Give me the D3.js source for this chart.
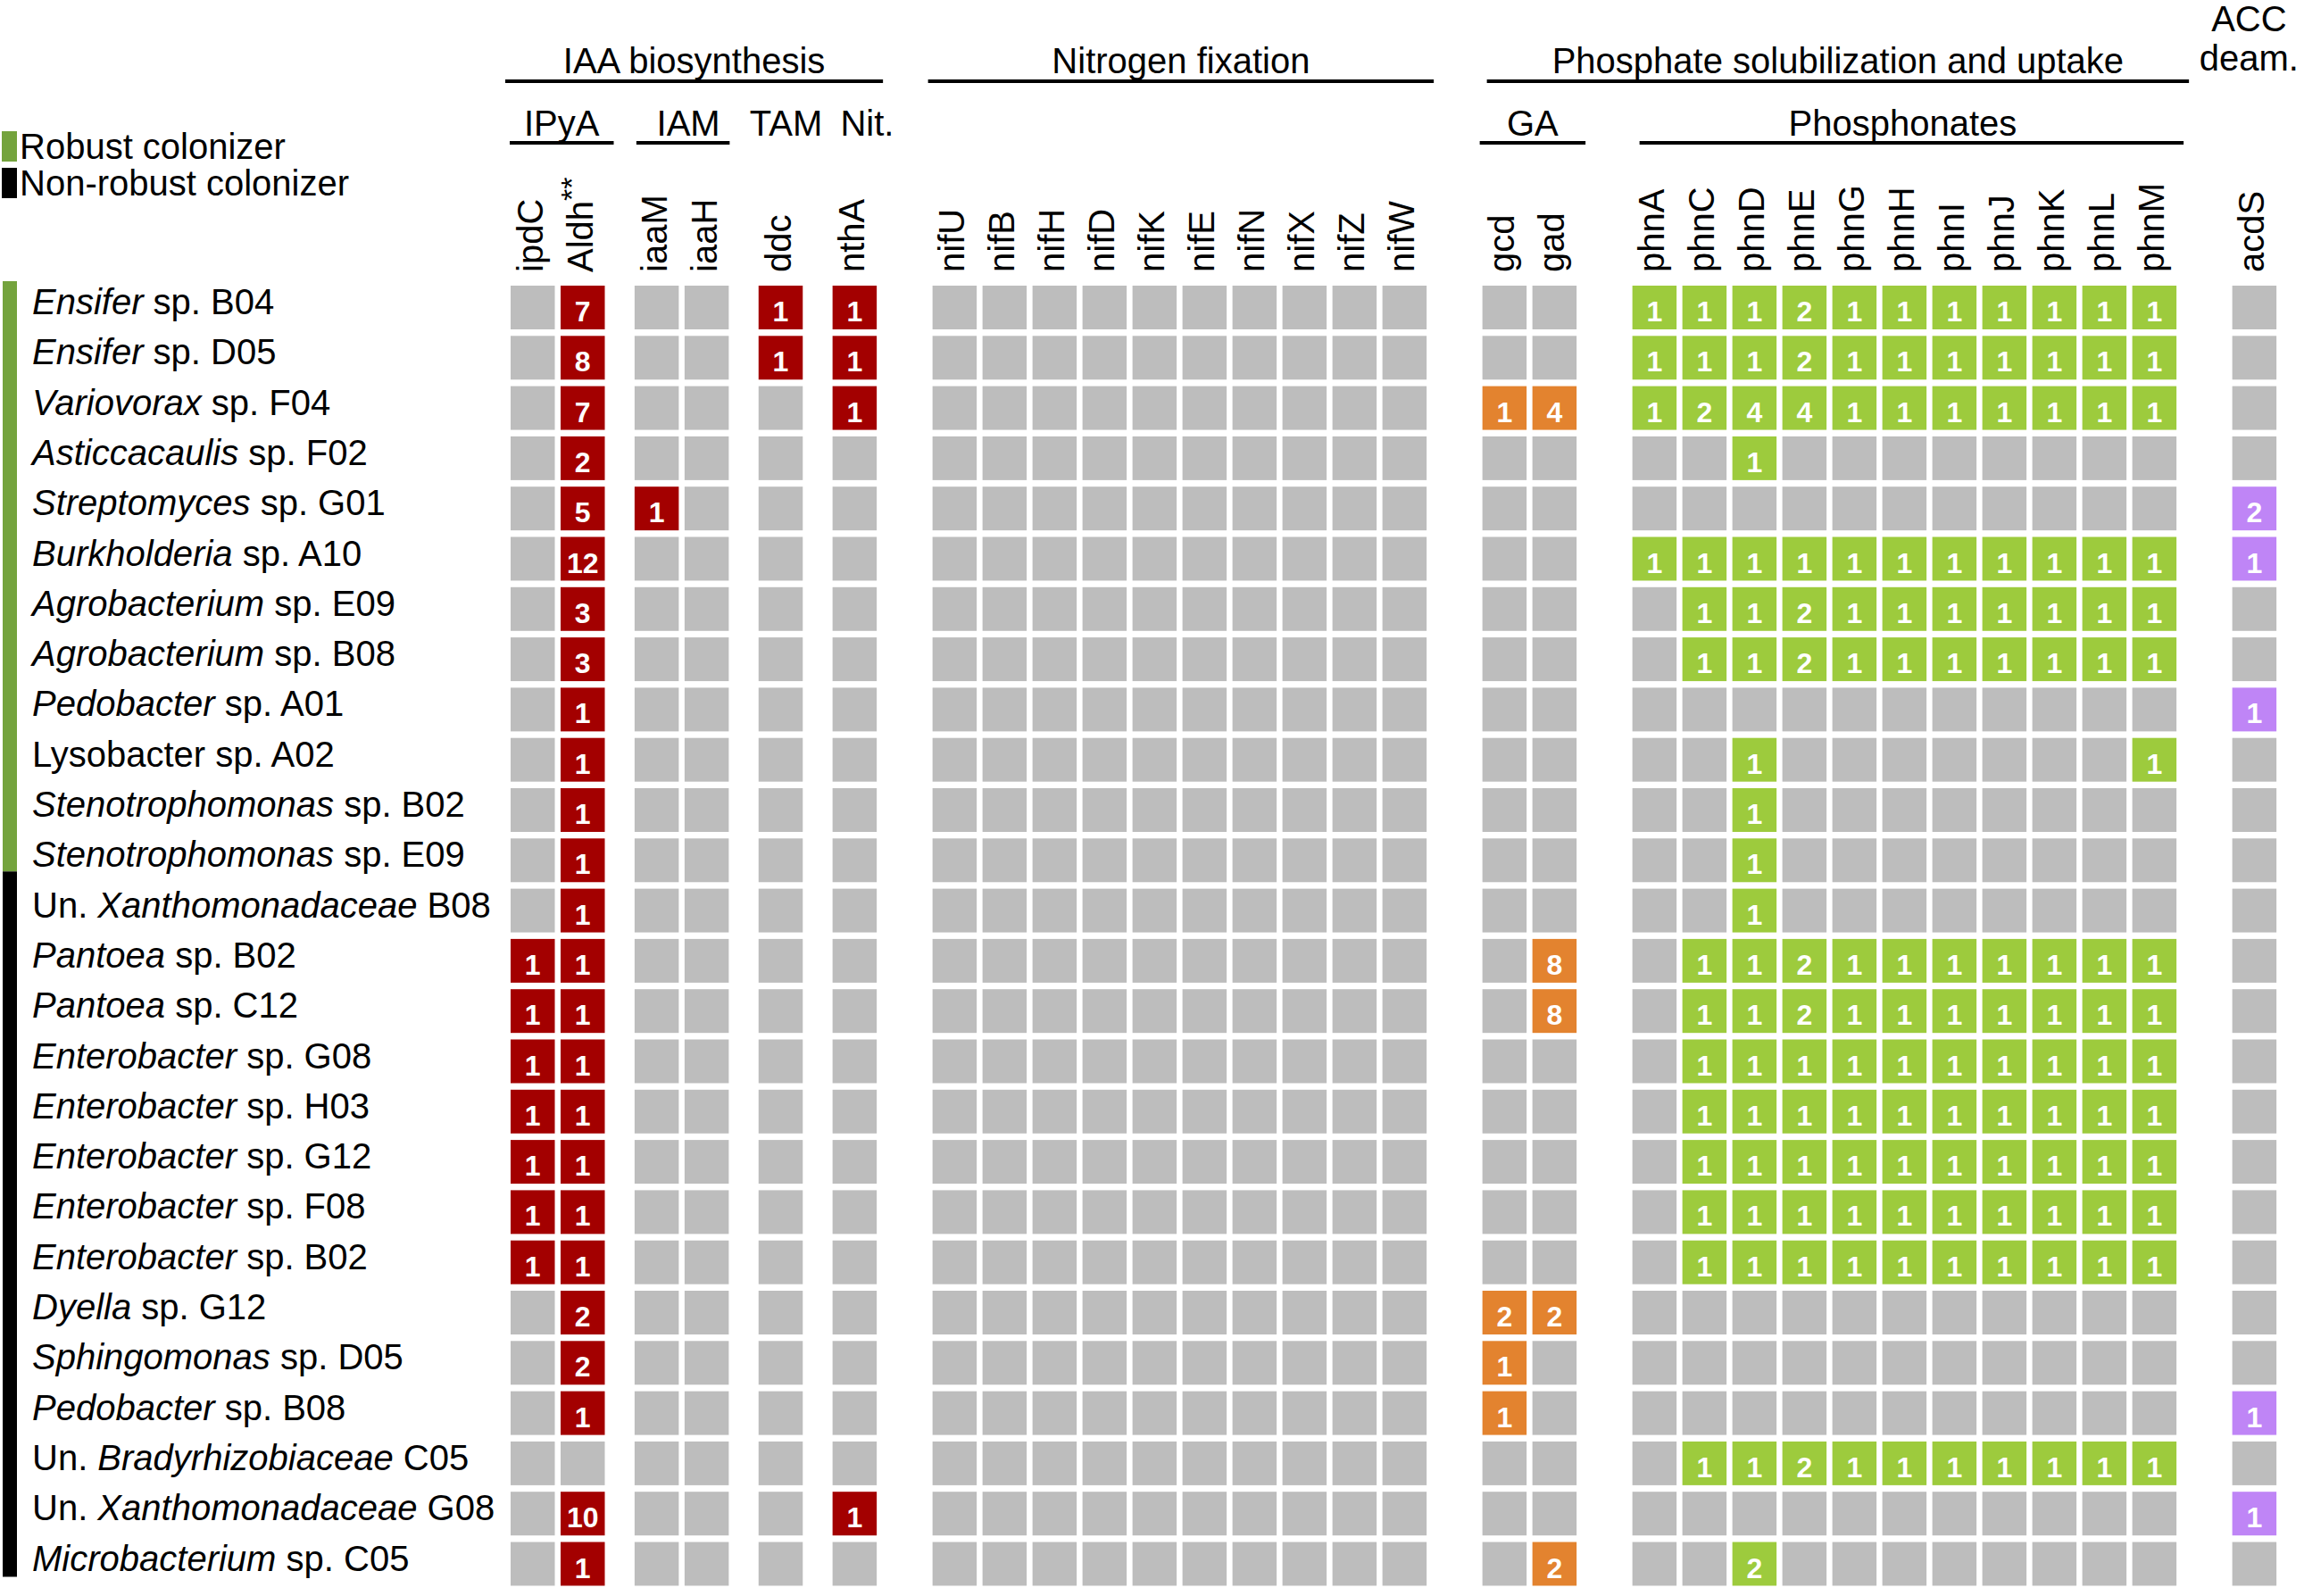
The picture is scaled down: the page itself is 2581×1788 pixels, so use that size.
<!DOCTYPE html>
<html>
<head>
<meta charset="utf-8">
<script src="https://cdn.jsdelivr.net/npm/d3@7"></script>
<style>
  body { margin: 0; background: #fff; }
  svg { display: block; }
  text { font-family: "Liberation Sans", Arial, sans-serif; fill: #000; }
</style>
</head>
<body>
<svg id="chart"></svg>
<script>
// strains, *...* marks the italic part
const strains = [
  "*Ensifer* sp. B04", "*Ensifer* sp. D05", "*Variovorax* sp. F04", "*Asticcacaulis* sp. F02",
  "*Streptomyces* sp. G01", "*Burkholderia* sp. A10", "*Agrobacterium* sp. E09", "*Agrobacterium* sp. B08",
  "*Pedobacter* sp. A01", "Lysobacter sp. A02", "*Stenotrophomonas* sp. B02", "*Stenotrophomonas* sp. E09",
  "Un. *Xanthomonadaceae* B08", "*Pantoea* sp. B02", "*Pantoea* sp. C12", "*Enterobacter* sp. G08",
  "*Enterobacter* sp. H03", "*Enterobacter* sp. G12", "*Enterobacter* sp. F08", "*Enterobacter* sp. B02",
  "*Dyella* sp. G12", "*Sphingomonas* sp. D05", "*Pedobacter* sp. B08", "Un. *Bradyrhizobiaceae* C05",
  "Un. *Xanthomonadaceae* G08", "*Microbacterium* sp. C05"
];
// 1 = robust colonizer, 0 = non-robust
const robust = [1,1,1,1,1,1,1,1,1,1,1,1,0,0,0,0,0,0,0,0,0,0,0,0,0,0];

// IAA biosynthesis genes
const iaaGenes = ["ipdC", "Aldh", "iaaM", "iaaH", "ddc", "nthA"];
const iaaSub = ["IPyA", "IPyA", "IAM", "IAM", "TAM", "Nit."];
const iaaCounts = [
  [0,7,0,0,1,1], [0,8,0,0,1,1], [0,7,0,0,0,1], [0,2,0,0,0,0], [0,5,1,0,0,0], [0,12,0,0,0,0],
  [0,3,0,0,0,0], [0,3,0,0,0,0], [0,1,0,0,0,0], [0,1,0,0,0,0], [0,1,0,0,0,0], [0,1,0,0,0,0],
  [0,1,0,0,0,0], [1,1,0,0,0,0], [1,1,0,0,0,0], [1,1,0,0,0,0], [1,1,0,0,0,0], [1,1,0,0,0,0],
  [1,1,0,0,0,0], [1,1,0,0,0,0], [0,2,0,0,0,0], [0,2,0,0,0,0], [0,1,0,0,0,0], [0,0,0,0,0,0],
  [0,10,0,0,0,1], [0,1,0,0,0,0]
];

// nitrogen fixation genes (none found)
const nifGenes = ["nifU", "nifB", "nifH", "nifD", "nifK", "nifE", "nifN", "nifX", "nifZ", "nifW"];
const nifCounts = [
  [0,0,0,0,0,0,0,0,0,0], [0,0,0,0,0,0,0,0,0,0], [0,0,0,0,0,0,0,0,0,0], [0,0,0,0,0,0,0,0,0,0],
  [0,0,0,0,0,0,0,0,0,0], [0,0,0,0,0,0,0,0,0,0], [0,0,0,0,0,0,0,0,0,0], [0,0,0,0,0,0,0,0,0,0],
  [0,0,0,0,0,0,0,0,0,0], [0,0,0,0,0,0,0,0,0,0], [0,0,0,0,0,0,0,0,0,0], [0,0,0,0,0,0,0,0,0,0],
  [0,0,0,0,0,0,0,0,0,0], [0,0,0,0,0,0,0,0,0,0], [0,0,0,0,0,0,0,0,0,0], [0,0,0,0,0,0,0,0,0,0],
  [0,0,0,0,0,0,0,0,0,0], [0,0,0,0,0,0,0,0,0,0], [0,0,0,0,0,0,0,0,0,0], [0,0,0,0,0,0,0,0,0,0],
  [0,0,0,0,0,0,0,0,0,0], [0,0,0,0,0,0,0,0,0,0], [0,0,0,0,0,0,0,0,0,0], [0,0,0,0,0,0,0,0,0,0],
  [0,0,0,0,0,0,0,0,0,0], [0,0,0,0,0,0,0,0,0,0]
];

// gluconic acid genes
const gaGenes = ["gcd", "gad"];
const gaCounts = [
  [0,0], [0,0], [1,4], [0,0], [0,0], [0,0], [0,0], [0,0], [0,0], [0,0], [0,0], [0,0], [0,0],
  [0,8], [0,8], [0,0], [0,0], [0,0], [0,0], [0,0], [2,2], [1,0], [1,0], [0,0], [0,0], [0,2]
];

// phosphonate genes
const phnGenes = ["phnA", "phnC", "phnD", "phnE", "phnG", "phnH", "phnI", "phnJ", "phnK", "phnL", "phnM"];
const phnCounts = [
  [1,1,1,2,1,1,1,1,1,1,1], [1,1,1,2,1,1,1,1,1,1,1], [1,2,4,4,1,1,1,1,1,1,1], [0,0,1,0,0,0,0,0,0,0,0],
  [0,0,0,0,0,0,0,0,0,0,0], [1,1,1,1,1,1,1,1,1,1,1], [0,1,1,2,1,1,1,1,1,1,1], [0,1,1,2,1,1,1,1,1,1,1],
  [0,0,0,0,0,0,0,0,0,0,0], [0,0,1,0,0,0,0,0,0,0,1], [0,0,1,0,0,0,0,0,0,0,0], [0,0,1,0,0,0,0,0,0,0,0],
  [0,0,1,0,0,0,0,0,0,0,0], [0,1,1,2,1,1,1,1,1,1,1], [0,1,1,2,1,1,1,1,1,1,1], [0,1,1,1,1,1,1,1,1,1,1],
  [0,1,1,1,1,1,1,1,1,1,1], [0,1,1,1,1,1,1,1,1,1,1], [0,1,1,1,1,1,1,1,1,1,1], [0,1,1,1,1,1,1,1,1,1,1],
  [0,0,0,0,0,0,0,0,0,0,0], [0,0,0,0,0,0,0,0,0,0,0], [0,0,0,0,0,0,0,0,0,0,0], [0,1,1,2,1,1,1,1,1,1,1],
  [0,0,0,0,0,0,0,0,0,0,0], [0,0,2,0,0,0,0,0,0,0,0]
];

// ACC deaminase
const acdsGenes = ["acdS"];
const acdsCounts = [0,0,0,0,2,1,0,0,1,0,0,0,0,0,0,0,0,0,0,0,0,0,1,0,1,0];

// 見出し
const majorLabels = ["IAA biosynthesis", "Nitrogen fixation", "Phosphate solubilization and uptake"];
const subLabels = ["IPyA", "IAM", "TAM", "Nit.", "GA", "Phosphonates"];

// ---- build columns ----
const blocks = [
  { major: 0, genes: iaaGenes, sub: iaaSub, counts: iaaCounts, color: "#a30000" },
  { major: 1, genes: nifGenes, sub: nifGenes.map(() => "nif"), counts: nifCounts, color: "#a30000" },
  { major: 2, genes: gaGenes, sub: gaGenes.map(() => "GA"), counts: gaCounts, color: "#e3832f" },
  { major: 2, genes: phnGenes, sub: phnGenes.map(() => "Phosphonates"), counts: phnCounts, color: "#9dcb3d" },
  { major: 3, genes: acdsGenes, sub: ["acdS"], counts: acdsCounts.map(v => [v]), color: "#bf85f6" }
];

const columns = [];
let slot = 0;
blocks.forEach((b, bi) => {
  b.genes.forEach((g, gi) => {
    if (columns.length) {
      const prev = columns[columns.length - 1];
      if (gi === 0) slot += 2;                       // 大きいグループ間は1列分空ける
      else if (b.sub[gi] !== prev.sub) slot += 1.48; // IAA内の小グループ
      else slot += 1;
    }
    columns.push({ gene: g, sub: b.sub[gi], major: b.major, block: bi, slot: slot, idx: gi });
  });
});

const cells = [];
strains.forEach((s, r) => {
  columns.forEach(c => {
    const v = blocks[c.block].counts[r][c.idx];
    cells.push({ row: r, col: c, value: v, color: v > 0 ? blocks[c.block].color : "#bdbdbd" });
  });
});

// ---- layout ----
const width = 2581, height = 1788;
const svg = d3.select("#chart").attr("width", width).attr("height", height)
  .attr("viewBox", `0 0 ${width} ${height}`);

const x = d3.scaleLinear().domain([0, 1]).range([572, 628]);
const y = d3.scaleBand().domain(d3.range(strains.length))
  .range([320, 320 + 56.3 * (strains.length - 0.13)]).paddingInner(0.13).paddingOuter(0);
const cw = 49.5, ch = y.bandwidth();

// cells
const cellG = svg.append("g").selectAll("g").data(cells).enter().append("g")
  .attr("transform", d => `translate(${x(d.col.slot)},${y(d.row)})`);
cellG.append("rect").attr("width", cw).attr("height", ch).attr("fill", d => d.color);
cellG.filter(d => d.value > 0).append("text")
  .attr("x", cw / 2).attr("y", 40)
  .attr("text-anchor", "middle")
  .style("font-size", "32px").style("font-weight", "bold").style("fill", "#fff")
  .text(d => d.value);

// gene labels (rotated)
const geneText = svg.append("g").selectAll("text").data(columns).enter().append("text")
  .attr("transform", d => `translate(${x(d.slot) + cw / 2 + 11},305) rotate(-90)`)
  .style("font-size", "40px");
geneText.append("tspan").text(d => d.gene);
geneText.filter(d => d.gene === "Aldh").append("tspan")
  .attr("dy", -12).style("font-size", "34px").text("**");

// row labels
const rowText = svg.append("g").selectAll("text").data(strains).enter().append("text")
  .attr("x", 36).attr("y", (d, i) => y(i) + 32)
  .style("font-size", "40px");
rowText.each(function(d) {
  const t = d3.select(this);
  d.split("*").forEach((part, k) => {
    if (!part) return;
    t.append("tspan").style("font-style", k % 2 ? "italic" : "normal").text(part);
  });
});

// colonizer bars
const lastRobust = robust.lastIndexOf(1);
const barSpans = [
  { color: "#74a33d", y0: y(0) - 5, y1: y(lastRobust) + 37 },
  { color: "#000", y0: y(lastRobust) + 37, y1: y(strains.length - 1) + 39 }
];
svg.append("g").selectAll("rect").data(barSpans).enter().append("rect")
  .attr("x", 3).attr("width", 16)
  .attr("y", d => d.y0).attr("height", d => d.y1 - d.y0)
  .attr("fill", d => d.color);

// legend
const legendItems = [
  { label: "Robust colonizer", color: "#74a33d" },
  { label: "Non-robust colonizer", color: "#000" }
];
const leg = svg.append("g").selectAll("g").data(legendItems).enter().append("g")
  .attr("transform", (d, i) => `translate(0,${147 + i * 41})`);
leg.append("rect").attr("x", 2).attr("width", 17).attr("height", 34).attr("fill", d => d.color);
leg.append("text").attr("x", 22).attr("y", 31).style("font-size", "40px").text(d => d.label);

// header helpers
function span(filterFn) {
  const cs = columns.filter(filterFn);
  return [x(cs[0].slot), x(cs[cs.length - 1].slot) + cw];
}

// major headers
const majorPad = [[-6, 7], [-5, 8], [5, 14]];
majorLabels.forEach((lab, i) => {
  const [a, b] = span(c => c.major === i);
  const x0 = a + majorPad[i][0], x1 = b + majorPad[i][1];
  svg.append("line").attr("x1", x0).attr("x2", x1).attr("y1", 91).attr("y2", 91)
    .attr("stroke", "#000").attr("stroke-width", 4);
  svg.append("text").attr("x", (x0 + x1) / 2).attr("y", 82)
    .attr("text-anchor", "middle").style("font-size", "40px").text(lab);
});

// sub headers
const subPad = { "IPyA": [-1, 10], "IAM": [2, 1], "GA": [-3, 10], "Phosphonates": [8, 8] };
const subDx = { "TAM": 6, "Nit.": 14, "IAM": 6, "Phosphonates": -10 };
subLabels.forEach(lab => {
  const [a, b] = span(c => c.sub === lab);
  const pad = subPad[lab];
  let x0 = a, x1 = b;
  if (pad) {
    x0 = a + pad[0]; x1 = b + pad[1];
    svg.append("line").attr("x1", x0).attr("x2", x1).attr("y1", 160).attr("y2", 160)
      .attr("stroke", "#000").attr("stroke-width", 4);
  }
  svg.append("text").attr("x", (x0 + x1) / 2 + (subDx[lab] || 0)).attr("y", 152)
    .attr("text-anchor", "middle").style("font-size", "40px").text(lab);
});

// ACC deam.
const acc = columns.find(c => c.major === 3);
const accX = x(acc.slot) + cw / 2 - 6;
svg.append("text").attr("x", accX).attr("y", 35).attr("text-anchor", "middle")
  .style("font-size", "40px").text("ACC");
svg.append("text").attr("x", accX).attr("y", 79).attr("text-anchor", "middle")
  .style("font-size", "40px").text("deam.");
</script>
</body>
</html>
